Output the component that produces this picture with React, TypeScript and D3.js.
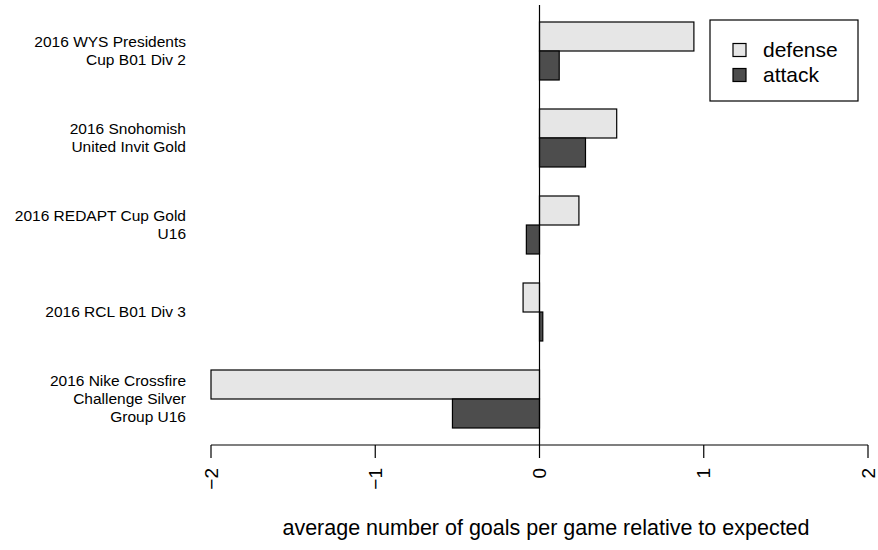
import React, { useEffect, useRef } from 'react';
import * as d3 from 'd3';

const categories = [
  ['2016 WYS Presidents', 'Cup B01 Div 2'],
  ['2016 Snohomish', 'United Invit Gold'],
  ['2016 REDAPT Cup Gold', 'U16'],
  ['2016 RCL B01 Div 3'],
  ['2016 Nike Crossfire', 'Challenge Silver', 'Group U16'],
];
const defense = [0.94, 0.47, 0.24, -0.1, -2.0];
const attack = [0.12, 0.28, -0.08, 0.02, -0.53];
const ticks = [-2, -1, 0, 1, 2];

export default function App() {
  const ref = useRef<SVGSVGElement>(null);

  useEffect(() => {
    if (!ref.current) return;
    const svg = d3.select(ref.current);
    svg.selectAll('*').remove();
    const font = 'Liberation Sans, Arial, sans-serif';

    const x = d3.scaleLinear().domain([-2, 2]).range([211, 868]);
    const y = d3.scaleLinear().domain([0, categories.length]).range([22, 22 + 87 * categories.length]);
    const bh = 29;

    categories.forEach((c, i) => {
      const t = y(i);
      const series: [number, string][] = [[defense[i], '#e6e6e6'], [attack[i], '#4d4d4d']];
      series.forEach(([v, col], j) => {
        svg.append('rect')
          .attr('x', Math.min(x(0), x(v)))
          .attr('y', t + j * bh)
          .attr('width', Math.abs(x(v) - x(0)))
          .attr('height', bh)
          .attr('fill', col)
          .attr('stroke', '#000')
          .attr('stroke-width', 1.2);
      });
      const cy = t + bh;
      const lh = 18;
      c.forEach((line, k) => {
        svg.append('text')
          .attr('x', 186)
          .attr('y', cy + (k - (c.length - 1) / 2) * lh)
          .attr('dy', '0.35em')
          .attr('text-anchor', 'end')
          .attr('font-family', font)
          .attr('font-size', 15.5)
          .text(line);
      });
    });

    svg.append('line').attr('x1', x(0)).attr('x2', x(0)).attr('y1', 5).attr('y2', 445)
      .attr('stroke', '#000').attr('stroke-width', 1.2);

    const ax = svg.append('g');
    ax.append('line').attr('x1', x(-2)).attr('x2', x(2)).attr('y1', 445).attr('y2', 445)
      .attr('stroke', '#000').attr('stroke-width', 1.2);
    ticks.forEach(t => {
      ax.append('line').attr('x1', x(t)).attr('x2', x(t)).attr('y1', 445).attr('y2', 458)
        .attr('stroke', '#000').attr('stroke-width', 1.2);
      ax.append('text')
        .attr('transform', `translate(${x(t)},468) rotate(-90)`)
        .attr('dy', '0.35em')
        .attr('text-anchor', 'end')
        .attr('font-family', font)
        .attr('font-size', 19)
        .text(t < 0 ? '\u2212' + Math.abs(t) : String(t));
    });

    svg.append('text').attr('x', 546).attr('y', 535).attr('text-anchor', 'middle')
      .attr('font-family', font).attr('font-size', 21.5)
      .text('average number of goals per game relative to expected');

    const lg = svg.append('g');
    lg.append('rect').attr('x', 710).attr('y', 20).attr('width', 148).attr('height', 81)
      .attr('fill', '#fff').attr('stroke', '#000').attr('stroke-width', 1.2);
    [['defense', '#e6e6e6'], ['attack', '#4d4d4d']].forEach(([label, col], i) => {
      const cy = 50 + i * 25;
      lg.append('rect').attr('x', 733).attr('y', cy - 6.5).attr('width', 13).attr('height', 13)
        .attr('fill', col).attr('stroke', '#000').attr('stroke-width', 1.2);
      lg.append('text').attr('x', 763).attr('y', cy).attr('dy', '0.35em')
        .attr('font-family', font).attr('font-size', 21).text(label);
    });
  }, []);

  return <svg ref={ref} width={878} height={550} style={{ position: 'absolute', left: 0, top: 0, background: '#fff' }} />;
}
